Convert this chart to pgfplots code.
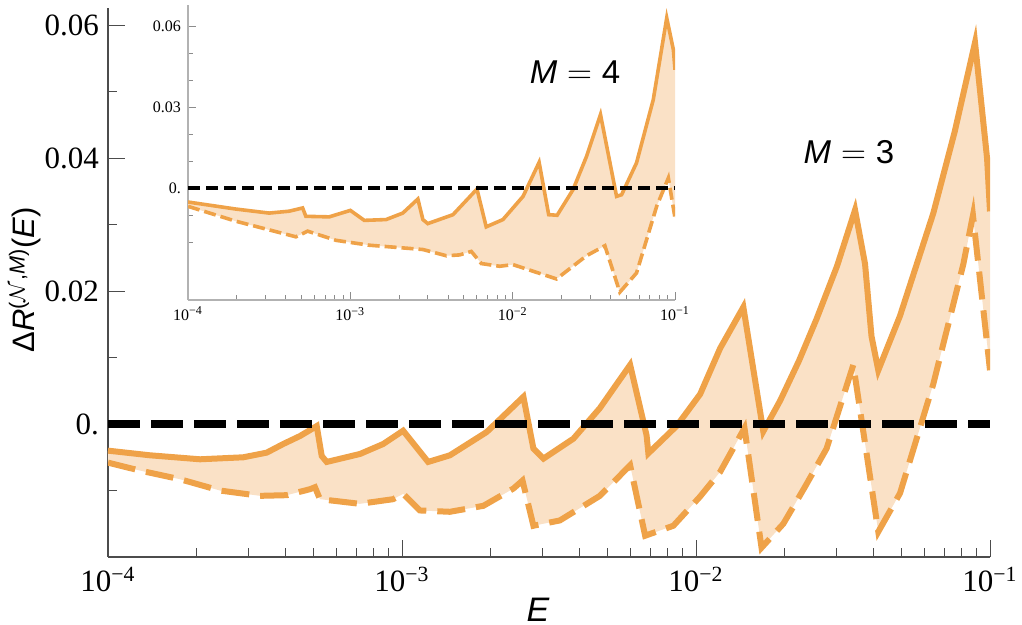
\documentclass[border=0pt]{standalone}
\usepackage{fontspec}
\setmainfont{Liberation Serif}
\setsansfont{Liberation Sans}
\usepackage{pgfplots}
\pgfplotsset{compat=1.18}
\usepgfplotslibrary{fillbetween}
\definecolor{curve}{RGB}{239,162,72}
\definecolor{band}{RGB}{250,225,198}

% main panel, M = 3
\pgfplotstableread{
x y
1.000e-4 -0.0040
1.390e-4 -0.0047
2.056e-4 -0.0053
2.884e-4 -0.0050
3.467e-4 -0.0043
3.945e-4 -0.0030
4.498e-4 -0.0018
5.129e-4 -0.0003
5.333e-4 -0.0048
5.546e-4 -0.0057
7.194e-4 -0.0045
8.630e-4 -0.0030
1.009e-3 -0.0010
1.227e-3 -0.0057
1.455e-3 -0.0047
1.941e-3 -0.0012
2.588e-3 0.0041
2.799e-3 -0.0037
3.027e-3 -0.0052
3.828e-3 -0.0022
4.710e-3 0.0024
5.970e-3 0.0089
6.792e-3 -0.0017
6.887e-3 -0.0044
8.590e-3 -0.0003
1.033e-2 0.0045
1.208e-2 0.0114
1.449e-2 0.0176
1.694e-2 -0.0011
1.932e-2 0.0035
2.239e-2 0.0095
2.570e-2 0.0158
3.020e-2 0.0238
3.475e-2 0.0322
3.758e-2 0.0241
3.954e-2 0.0132
4.169e-2 0.0081
4.943e-2 0.0163
6.412e-2 0.0317
7.586e-2 0.0440
8.892e-2 0.0574
9.772e-2 0.0400
1.000e-1 0.0320
}\upperthree
\pgfplotstableread{
x y
1.000e-4 -0.0058
1.285e-4 -0.0070
1.758e-4 -0.0083
2.404e-4 -0.0100
3.289e-4 -0.0108
4.055e-4 -0.0107
4.864e-4 -0.0098
5.058e-4 -0.0095
5.260e-4 -0.0113
7.194e-4 -0.0120
9.333e-4 -0.0113
1.009e-3 -0.0105
1.151e-3 -0.0130
1.455e-3 -0.0132
1.892e-3 -0.0123
2.393e-3 -0.0097
2.570e-3 -0.0085
2.799e-3 -0.0153
3.443e-3 -0.0145
4.710e-3 -0.0108
5.970e-3 -0.0062
6.714e-3 -0.0168
8.375e-3 -0.0153
1.033e-2 -0.0109
1.208e-2 -0.0072
1.462e-2 -0.0006
1.671e-2 -0.0186
1.982e-2 -0.0150
2.344e-2 -0.0095
2.780e-2 -0.0037
3.428e-2 0.0089
4.169e-2 -0.0162
4.943e-2 -0.0104
6.412e-2 0.0060
8.110e-2 0.0240
8.750e-2 0.0314
1.000e-1 0.0081
}\lowerthree

% inset, M = 4
\pgfplotstableread{
x y
1.000e-4 -0.0052
1.968e-4 -0.0078
3.162e-4 -0.0093
4.198e-4 -0.0086
5.082e-4 -0.0074
5.321e-4 -0.0105
7.413e-4 -0.0107
1.000e-3 -0.0083
1.219e-3 -0.0120
1.660e-3 -0.0117
2.104e-3 -0.0093
2.606e-3 -0.0041
2.799e-3 -0.0117
2.999e-3 -0.0132
4.285e-3 -0.0099
6.026e-3 -0.0004
6.871e-3 -0.0144
8.710e-3 -0.0117
1.159e-2 -0.0031
1.455e-2 0.0095
1.667e-2 -0.0099
1.879e-2 -0.0101
2.355e-2 -0.0006
2.851e-2 0.0117
3.475e-2 0.0272
4.365e-2 -0.0031
4.688e-2 -0.0025
5.794e-2 0.0093
7.345e-2 0.0327
8.892e-2 0.0630
9.772e-2 0.0512
1.000e-1 0.0438
}\upperfour
\pgfplotstableread{
x y
1.000e-4 -0.0068
1.968e-4 -0.0123
4.624e-4 -0.0181
5.458e-4 -0.0160
8.166e-4 -0.0194
1.309e-3 -0.0212
2.799e-3 -0.0228
3.899e-3 -0.0251
4.710e-3 -0.0248
5.559e-3 -0.0235
6.412e-3 -0.0280
8.318e-3 -0.0290
1.005e-2 -0.0284
1.862e-2 -0.0337
2.851e-2 -0.0251
3.698e-2 -0.0214
4.571e-2 -0.0386
5.794e-2 -0.0315
7.709e-2 -0.0068
9.099e-2 0.0037
1.000e-1 -0.0111
}\lowerfour

\begin{document}
\begin{tikzpicture}
\begin{axis}[
    name=main, at={(0pt,0pt)}, anchor=south west,
    scale only axis, width=441pt, height=274.5pt,
    set layers,
    xmode=log, xmin=1e-4, xmax=0.1,
    ymin=-0.02, ymax=0.0626,
    axis lines*=left,
    axis line style={black!70, line width=0.6pt},
    tick align=inside,
    major tick length=8.5pt, minor tick length=4.5pt,
    every tick/.style={black!70, line width=0.5pt},
    xtick={1e-4,1e-3,1e-2,1e-1},
    xticklabels={10\textsuperscript{−4},10\textsuperscript{−3},10\textsuperscript{−2},10\textsuperscript{−1}},
    minor xtick={2e-4,3e-4,4e-4,5e-4,6e-4,7e-4,8e-4,9e-4,
                 2e-3,3e-3,4e-3,5e-3,6e-3,7e-3,8e-3,9e-3,
                 2e-2,3e-2,4e-2,5e-2,6e-2,7e-2,8e-2,9e-2},
    ytick={0,0.02,0.04,0.06},
    yticklabels={0.,0.02,0.04,0.06},
    minor ytick={-0.01,0.01,0.03,0.05},
    tick label style={font=\fontsize{15.5}{16}\selectfont},
    yticklabel style={xshift=-1pt},
    xticklabel style={yshift=-1.5pt},
    xlabel={\sffamily\itshape E},
    xlabel style={at={(axis description cs:0.4875,-0.0965)}, anchor=center,
                  font=\fontsize{17}{18}\selectfont},
    ylabel={\sffamily Δ\textit{R}\textsuperscript{($\mathcal{N}$,\textit{M})}(\textit{E})},
    ylabel style={at={(axis description cs:-0.094,0.505)}, anchor=center,
                  font=\fontsize{15.5}{16}\selectfont},
  ]
  \addplot[curve, line width=3pt, name path=s3] table {\upperthree};
  \addplot[curve, line width=3pt, dash pattern=on 14pt off 5.5pt, name path=d3] table {\lowerthree};
  \addplot[band] fill between[of=s3 and d3];
  \addplot[black, line width=3.6pt, dash pattern=on 16pt off 5.5pt] coordinates {(1e-4,0) (0.1,0)};
  \node[font=\fontsize{16.5}{17}\selectfont\sffamily] at (axis description cs:0.840,0.7377)
    {\textit{M}\hspace{0.3em}$=$\hspace{0.3em}3};
  \node[font=\fontsize{16.5}{17}\selectfont\sffamily] at (axis description cs:0.5295,0.8834)
    {\textit{M}\hspace{0.3em}$=$\hspace{0.3em}4};
\end{axis}

\begin{axis}[
    name=inset, at={(40pt,128.5pt)}, anchor=south west,
    scale only axis, width=243.5pt, height=147.5pt,
    set layers,
    xmode=log, xmin=1e-4, xmax=0.1,
    ymin=-0.0415, ymax=0.0678,
    axis lines*=left,
    axis line style={black!30, line width=0.9pt},
    tick align=inside,
    major tick length=4pt, minor tick length=2.5pt,
    every tick/.style={black!45, line width=0.4pt},
    xtick={1e-4,1e-3,1e-2,1e-1},
    xticklabels={10\textsuperscript{−4},10\textsuperscript{−3},10\textsuperscript{−2},10\textsuperscript{−1}},
    minor xtick={2e-4,3e-4,4e-4,5e-4,6e-4,7e-4,8e-4,9e-4,
                 2e-3,3e-3,4e-3,5e-3,6e-3,7e-3,8e-3,9e-3,
                 2e-2,3e-2,4e-2,5e-2,6e-2,7e-2,8e-2,9e-2},
    ytick={0,0.03,0.06},
    yticklabels={0.,0.03,0.06},
    minor ytick={-0.02,-0.01,0.01,0.02,0.04,0.05},
    tick label style={font=\fontsize{8}{9}\selectfont},
  ]
  \addplot[curve, line width=1.8pt, name path=s4] table {\upperfour};
  \addplot[curve, line width=1.8pt, dash pattern=on 6pt off 2.5pt, name path=d4] table {\lowerfour};
  \addplot[band] fill between[of=s4 and d4];
  \addplot[black, line width=2pt, dash pattern=on 6pt off 3pt] coordinates {(1e-4,0) (0.1,0)};
\end{axis}
\pgfresetboundingbox
\path[use as bounding box] (-54pt,-34pt) rectangle (457pt,278.5pt);
\end{tikzpicture}
\end{document}
